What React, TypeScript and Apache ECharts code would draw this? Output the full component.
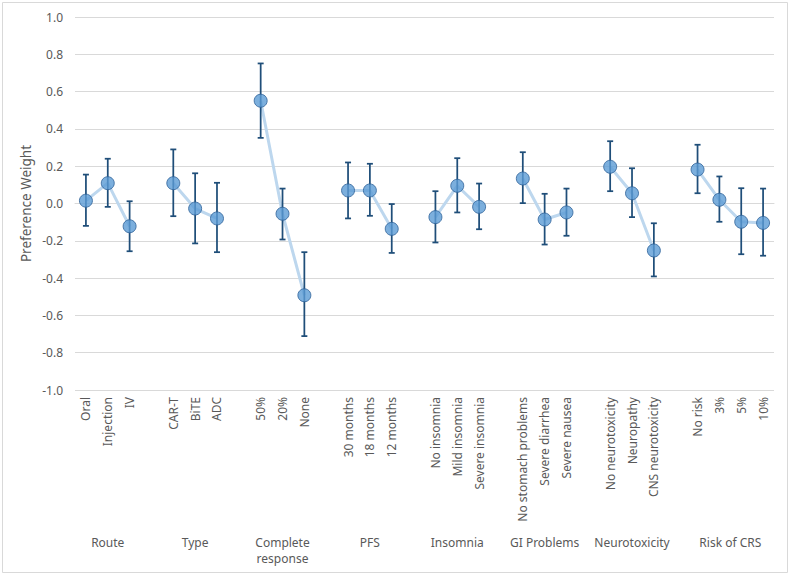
import React, { useEffect, useRef } from "react";
import * as echarts from "echarts";

const groupNames = ["Route", "Type", "Complete\nresponse", "PFS", "Insomnia", "GI Problems", "Neurotoxicity", "Risk of CRS"];
const groupLevels = [
  ["Oral", "Injection", "IV"],
  ["CAR-T", "BiTE", "ADC"],
  ["50%", "20%", "None"],
  ["30 months", "18 months", "12 months"],
  ["No insomnia", "Mild insomnia", "Severe insomnia"],
  ["No stomach problems", "Severe diarrhea", "Severe nausea"],
  ["No neurotoxicity", "Neuropathy", "CNS neurotoxicity"],
  ["No risk", "3%", "5%", "10%"],
];
const weights = [
  [0.015, 0.109, -0.122],
  [0.109, -0.027, -0.08],
  [0.551, -0.055, -0.492],
  [0.07, 0.07, -0.136],
  [-0.073, 0.095, -0.018],
  [0.134, -0.086, -0.048],
  [0.197, 0.055, -0.252],
  [0.182, 0.02, -0.098, -0.104],
];
const lowerBounds = [
  [-0.12, -0.018, -0.256],
  [-0.068, -0.214, -0.261],
  [0.352, -0.193, -0.711],
  [-0.08, -0.066, -0.265],
  [-0.209, -0.048, -0.138],
  [0.002, -0.22, -0.173],
  [0.066, -0.073, -0.391],
  [0.055, -0.098, -0.272, -0.28],
];
const upperBounds = [
  [0.155, 0.24, 0.012],
  [0.29, 0.162, 0.111],
  [0.751, 0.08, -0.261],
  [0.22, 0.213, -0.003],
  [0.066, 0.243, 0.107],
  [0.275, 0.052, 0.08],
  [0.334, 0.189, -0.106],
  [0.315, 0.145, 0.082, 0.08],
];

const TXT = "#595959";
const FONT = "'Noto Sans', sans-serif";

export default function App() {
  const ref = useRef<HTMLDivElement>(null);
  useEffect(() => {
    if (!ref.current) return;
    const chart = echarts.init(ref.current, null, { renderer: "svg" });

    const categories: string[] = [];
    const lineData: (number | null)[] = [];
    const pointData: [number, number][] = [];
    const errData: [number, number, number][] = [];
    const spans: [number, number, number, number][] = [];
    groupLevels.forEach((levels, gi) => {
      if (gi > 0) {
        categories.push("__gap" + gi);
        lineData.push(null);
      }
      const start = categories.length;
      levels.forEach((lv, li) => {
        const idx = categories.length;
        categories.push(lv);
        lineData.push(weights[gi][li]);
        pointData.push([idx, weights[gi][li]]);
        errData.push([idx, lowerBounds[gi][li], upperBounds[gi][li]]);
      });
      spans.push([start, categories.length - 1, -1, gi]);
    });

    chart.setOption({
      animation: false,
      backgroundColor: "#ffffff",
      textStyle: { fontFamily: FONT },
      graphic: [
        {
          type: "rect",
          shape: { x: 2.5, y: 2.5, width: 785, height: 570 },
          style: { fill: "none", stroke: "#d9d9d9", lineWidth: 1 },
          silent: true,
          z: -10,
        },
      ],
      grid: { left: 75, right: 16, top: 17, bottom: 185, containLabel: false },
      xAxis: {
        type: "category",
        data: categories,
        boundaryGap: true,
        axisLine: { show: true, lineStyle: { color: "#d9d9d9", width: 1 } },
        axisTick: { show: false },
        axisLabel: {
          interval: 0,
          rotate: 90,
          margin: 7,
          color: TXT,
          fontSize: 12,
          fontFamily: FONT,
          formatter: (v: string) => (v.startsWith("__gap") ? "" : v),
        },
        splitLine: { show: false },
      },
      yAxis: {
        type: "value",
        min: -1,
        max: 1,
        interval: 0.2,
        name: "Preference Weight",
        nameLocation: "middle",
        nameGap: 42,
        nameMoveOverlap: false,
        nameTextStyle: { color: TXT, fontSize: 13.5, fontFamily: FONT },
        axisLine: { show: false },
        axisTick: { show: false },
        axisLabel: {
          color: TXT,
          fontSize: 12,
          margin: 12,
          fontFamily: FONT,
          formatter: (v: number) => v.toFixed(1),
        },
        splitLine: { lineStyle: { color: "#d9d9d9", width: 1 } },
      },
      series: [
        {
          type: "line",
          data: lineData,
          connectNulls: false,
          showSymbol: false,
          symbol: "none",
          lineStyle: { color: "#bdd7ee", width: 3 },
          z: 1,
          silent: true,
        },
        {
          type: "custom",
          data: errData,
          encode: { x: 0, y: [1, 2] },
          z: 2,
          silent: true,
          renderItem: (params: any, api: any) => {
            const idx = api.value(0);
            const lo = api.coord([idx, api.value(1)]);
            const hi = api.coord([idx, api.value(2)]);
            const x = lo[0];
            const cap = 3;
            const style = { stroke: "#1f4e79", lineWidth: 1.75 };
            return {
              type: "group",
              children: [
                { type: "line", shape: { x1: x, y1: hi[1], x2: x, y2: lo[1] }, style },
                { type: "line", shape: { x1: x - cap, y1: hi[1], x2: x + cap, y2: hi[1] }, style },
                { type: "line", shape: { x1: x - cap, y1: lo[1], x2: x + cap, y2: lo[1] }, style },
              ],
            };
          },
        },
        {
          type: "scatter",
          data: pointData,
          symbol: "circle",
          symbolSize: 13,
          itemStyle: { color: "#5b9bd5", borderColor: "#2e6299", borderWidth: 1 },
          z: 3,
          silent: true,
        },
        {
          type: "custom",
          data: spans,
          encode: { x: [0, 1], y: 2 },
          clip: false,
          silent: true,
          renderItem: (params: any, api: any) => {
            const a = api.coord([api.value(0), -1]);
            const b = api.coord([api.value(1), -1]);
            const gi = api.value(3);
            return {
              type: "text",
              x: (a[0] + b[0]) / 2,
              y: a[1] + 144,
              style: {
                text: groupNames[gi],
                fill: TXT,
                fontSize: 12,
                fontFamily: FONT,
                align: "center",
                verticalAlign: "top",
                lineHeight: 16,
              },
            };
          },
        },
      ],
    });
    return () => chart.dispose();
  }, []);

  return (
    <div
      ref={ref}
      style={{ position: "fixed", left: 0, top: 0, width: 790, height: 575, background: "#fff" }}
    />
  );
}
